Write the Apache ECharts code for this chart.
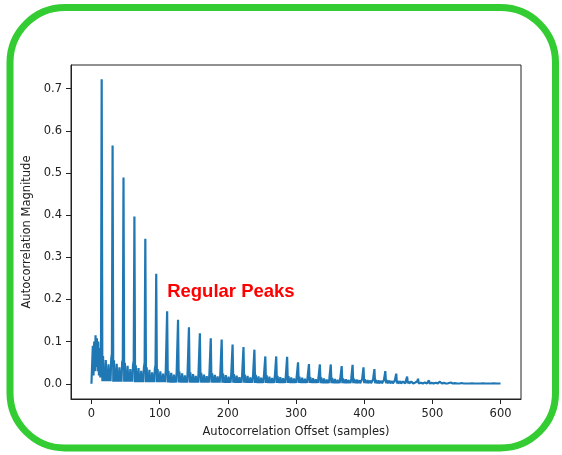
<!DOCTYPE html>
<html>
<head>
<meta charset="utf-8">
<script src="https://cdn.jsdelivr.net/npm/echarts@6/dist/echarts.min.js"></script>
<style>
  html, body { margin: 0; padding: 0; background: #fff; }
  #chart { width: 562px; height: 455px; }
</style>
</head>
<body>
<div id="chart"></div>
<script>
// lags 0..600, one value per lag
var lastLag = 600;
var period = 16;
// first lags, before the first peak
var headValues = [0, 0, 0.09, 0.02, 0.1, 0.03, 0.115, 0.04, 0.108, 0.03, 0.1, 0.02, 0.085, 0.015];
// peak k sits at lag 15 + 16k
var peakHeights = [0.722, 0.565, 0.489, 0.397, 0.344, 0.261, 0.172, 0.152, 0.134, 0.120,
    0.108, 0.105, 0.093, 0.087, 0.081, 0.065, 0.065, 0.064, 0.051, 0.047,
    0.046, 0.046, 0.042, 0.045, 0.039, 0.035, 0.030, 0.024, 0.017, 0.012,
    0.008, 0.005, 0.003, 0.002, 0.0015, 0.001, 0.001];
// value just before each peak
var footHeights = [0.07, 0.072, 0.058, 0.055, 0.05, 0.045, 0.035, 0.032, 0.03, 0.028,
    0.027, 0.026, 0.025, 0.024, 0.023, 0.022, 0.021, 0.02, 0.018, 0.017,
    0.016, 0.015, 0.014, 0.013, 0.012, 0.011, 0.01, 0.009, 0.008, 0.006,
    0.004, 0.003, 0.002, 0.0015, 0.001, 0.001, 0.001];
// top and bottom of the ripple between peaks, per period
var bandTop = [0.07, 0.066, 0.056, 0.05, 0.044, 0.039, 0.035, 0.031, 0.029, 0.027,
    0.026, 0.025, 0.024, 0.023, 0.022, 0.021, 0.02, 0.019, 0.018, 0.017,
    0.016, 0.015, 0.014, 0.013, 0.012, 0.011, 0.01, 0.009, 0.0075, 0.006,
    0.0045, 0.0035, 0.0025, 0.0018, 0.0013, 0.0011, 0.001, 0.001];
var bandLow = [0.01, 0.006, 0.005, 0.005, 0.004, 0.004, 0.004, 0.003, 0.003, 0.003,
    0.003, 0.003, 0.0025, 0.0025, 0.0025, 0.002, 0.002, 0.002, 0.002, 0.002,
    0.002, 0.0015, 0.0015, 0.0015, 0.0015, 0.0015, 0.0012, 0.0012, 0.001, 0.001,
    0.001, 0.001, 0.0008, 0.0008, 0.0008, 0.0008, 0.0008, 0.0008];
// relative height of the ripple at each offset inside a period
var rippleShape = [1.0, 1.0, 0.9, 0.6, 0.8, 0.85, 0.6, 0.45, 0.6, 0.7, 0.6, 0.5, 0.8, 0.9, 1.0, 1.0];
var xTicks = [0, 100, 200, 300, 400, 500, 600];
var yTicks = [0, 0.1, 0.2, 0.3, 0.4, 0.5, 0.6, 0.7];
var xTitle = 'Autocorrelation Offset (samples)';
var yTitle = 'Autocorrelation Magnitude';
var noteText = 'Regular Peaks';
var notePos = [111, 0.219];

var series = [];
for (var i = 0; i <= lastLag; i++) {
    var k = Math.floor(i / period);
    var off = i % period;
    var v;
    if (i < headValues.length) {
        v = headValues[i];
    } else if (off == 15 && k < peakHeights.length) {
        v = peakHeights[k];
    } else if (off == 14 && k < footHeights.length) {
        v = footHeights[k];
    } else if (i % 2 == 1) {
        v = bandTop[k] * rippleShape[off];
    } else {
        v = bandLow[k];
    }
    series.push([i, v]);
}

var font = 'DejaVu Sans';
var myChart = echarts.init(document.getElementById('chart'));

option = {
    animation: false,
    backgroundColor: '#fff',
    grid: {
        left: 71,
        top: 65,
        right: 41,
        bottom: 56,
        show: true,
        borderColor: '#222',
        borderWidth: 1
    },
    xAxis: {
        type: 'value',
        min: -30,
        max: 630,
        name: xTitle,
        nameLocation: 'middle',
        nameGap: 27,
        nameTextStyle: { fontFamily: font, fontSize: 11.5, color: '#222' },
        axisLine: { show: true, onZero: false, lineStyle: { color: '#222', width: 1 } },
        axisTick: { show: true, length: 5, lineStyle: { color: '#222' }, customValues: xTicks },
        axisLabel: { margin: 9, fontFamily: font, fontSize: 11.5, color: '#222', customValues: xTicks },
        splitLine: { show: false }
    },
    yAxis: {
        type: 'value',
        min: -0.036,
        max: 0.756,
        name: yTitle,
        nameLocation: 'middle',
        nameGap: 37,
        nameTextStyle: { fontFamily: font, fontSize: 11.5, color: '#222' },
        axisLine: { show: true, onZero: false, lineStyle: { color: '#222', width: 1 } },
        axisTick: { show: true, length: 5, lineStyle: { color: '#222' }, customValues: yTicks },
        axisLabel: {
            margin: 9, fontFamily: font, fontSize: 11.5, color: '#222', customValues: yTicks,
            formatter: function (val) { return val.toFixed(1); }
        },
        splitLine: { show: false }
    },
    series: [{
        type: 'line',
        data: series,
        showSymbol: false,
        sampling: 'none',
        lineStyle: { color: '#1f77b4', width: 2.2 }
    }]
};
myChart.setOption(option);

// frame and note drawn after the grid exists
var notePx = myChart.convertToPixel({ gridIndex: 0 }, notePos);
myChart.setOption({
    graphic: [{
        type: 'rect',
        shape: { x: 10, y: 7.5, width: 545.5, height: 440.5, r: 55 },
        style: { fill: 'none', stroke: '#33cc33', lineWidth: 7 },
        z: 10
    }, {
        type: 'text',
        x: notePx[0],
        y: notePx[1],
        style: {
            text: noteText,
            fill: '#ff0000',
            font: 'bold 18.5px "Liberation Sans"',
            textVerticalAlign: 'middle'
        },
        z: 10
    }]
});
</script>
</body>
</html>
